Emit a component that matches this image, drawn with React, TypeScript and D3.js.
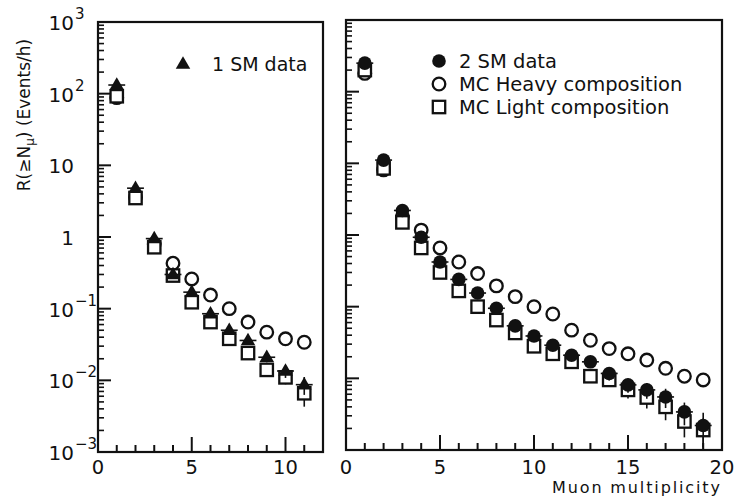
import * as d3 from "d3";

// multiplicity bins
const nLeft = [1, 2, 3, 4, 5, 6, 7, 8, 9, 10, 11];
const nRight = [1, 2, 3, 4, 5, 6, 7, 8, 9, 10, 11, 12, 13, 14, 15, 16, 17, 18, 19];

// left panel: 1 SM
const sm1Data = [132, 4.8, 0.95, 0.3, 0.17, 0.085, 0.05, 0.036, 0.021, 0.0135, 0.0087];
const heavyLeft = [88, 3.6, 0.8, 0.43, 0.26, 0.155, 0.1, 0.065, 0.047, 0.038, 0.034];
const lightLeft = [92, 3.5, 0.72, 0.29, 0.123, 0.065, 0.038, 0.024, 0.014, 0.011, 0.0066];
const sm1Err = [0.03, 0.03, 0.04, 0.05, 0.06, 0.08, 0.1, 0.12, 0.15, 0.2, 0.28];
const lightLeftErr = [0.03, 0.03, 0.04, 0.05, 0.06, 0.08, 0.1, 0.12, 0.15, 0.2, 0.35];

// right panel: 2 SM
const sm2Data = [250, 11.1, 2.2, 0.93, 0.42, 0.24, 0.155, 0.095, 0.054, 0.039, 0.029, 0.021, 0.017, 0.0117, 0.0081, 0.0069, 0.0055, 0.0034, 0.0022];
const heavyRight = [180, 8.1, 1.8, 1.17, 0.66, 0.42, 0.29, 0.195, 0.138, 0.1, 0.079, 0.047, 0.034, 0.026, 0.022, 0.018, 0.0138, 0.0107, 0.0095];
const lightRight = [200, 8.5, 1.5, 0.66, 0.3, 0.166, 0.1, 0.065, 0.043, 0.028, 0.022, 0.017, 0.0107, 0.0095, 0.0069, 0.0054, 0.004, 0.0025, 0.0019];
const sm2Err = [0.03, 0.03, 0.04, 0.05, 0.06, 0.07, 0.08, 0.1, 0.11, 0.12, 0.14, 0.16, 0.18, 0.2, 0.22, 0.25, 0.3, 0.35, 0.5];
const lightRightErr = [0.03, 0.03, 0.04, 0.05, 0.06, 0.07, 0.08, 0.1, 0.11, 0.12, 0.14, 0.16, 0.18, 0.2, 0.24, 0.3, 0.35, 0.4, 0.45];

const yTickLabels = [
  { v: 1e3, base: "10", exp: "3" },
  { v: 1e2, base: "10", exp: "2" },
  { v: 1e1, base: "10", exp: "" },
  { v: 1e0, base: "1", exp: "" },
  { v: 1e-1, base: "10", exp: "-1" },
  { v: 1e-2, base: "10", exp: "-2" },
  { v: 1e-3, base: "10", exp: "-3" },
];

const FONT = "'DejaVu Sans', sans-serif";
const INK = "#111";

type Series = { kind: "tri" | "dot" | "ring" | "box"; values: number[]; err?: number[]; xbar?: boolean };

function Marker({ kind, x, y }: { kind: string; x: number; y: number }) {
  if (kind === "dot") return <circle cx={x} cy={y} r={6.8} fill={INK} />;
  if (kind === "ring") return <circle cx={x} cy={y} r={6.3} fill="#fff" stroke={INK} strokeWidth={2.3} />;
  if (kind === "box") return <rect x={x - 6.2} y={y - 6.2} width={12.4} height={12.4} fill="#fff" stroke={INK} strokeWidth={2.3} />;
  const s = 14.5;
  const h = (s * Math.sqrt(3)) / 2;
  return <path d={`M${x},${y - h * 0.62}L${x + s / 2},${y + h * 0.38}L${x - s / 2},${y + h * 0.38}Z`} fill={INK} />;
}

function Panel({ left, right, top, bottom, xMax, ns, series, yLabels }: {
  left: number; right: number; top: number; bottom: number; xMax: number;
  ns: number[]; series: Series[]; yLabels: boolean;
}) {
  const x = d3.scaleLinear().domain([0, xMax]).range([left, right]);
  const y = d3.scaleLog().domain([1e-3, 1e3]).range([bottom, top]);

  const minor: number[] = [];
  for (let k = -3; k < 3; k++) for (let m = 2; m <= 9; m++) minor.push(m * Math.pow(10, k));
  const majors = d3.range(-3, 4).map((k) => Math.pow(10, k));
  const xTicks = d3.range(1, xMax);
  const xLabels = d3.range(0, xMax + 1, 5);

  return (
    <g>
      {/* y ticks */}
      {majors.map((v) => (
        <line key={"M" + v} x1={left} x2={left + 13} y1={y(v)} y2={y(v)} stroke={INK} strokeWidth={2} />
      ))}
      {minor.map((v) => (
        <line key={"m" + v} x1={left} x2={left + 6} y1={y(v)} y2={y(v)} stroke={INK} strokeWidth={1.6} />
      ))}
      {/* x ticks */}
      {xTicks.map((t) => (
        <line key={"x" + t} x1={x(t)} x2={x(t)} y1={bottom} y2={bottom - (t % 5 === 0 ? 15 : 7)} stroke={INK} strokeWidth={2} />
      ))}
      {xLabels.map((t) => (
        <text key={"xl" + t} x={x(t)} y={474} textAnchor="middle" fontSize={19.5} fontFamily={FONT} fill={INK}>{t}</text>
      ))}
      {yLabels && yTickLabels.map((d) => (
        <g key={"yl" + d.v}>
          <text x={74} y={y(d.v) + 8} textAnchor="end" fontSize={20} fontFamily={FONT} fill={INK}>{d.base}</text>
          {d.exp && (
            <text x={75} y={y(d.v) - 3} fontSize={15} fontFamily={FONT} fill={INK}>{d.exp.replace("-", "\u2212")}</text>
          )}
        </g>
      ))}
      {/* points */}
      {series.map((s, si) => (
        <g key={"s" + si}>
          {s.values.map((v, i) => {
            const px = x(ns[i]);
            const py = y(v);
            const e = s.err ? s.err[i] : 0;
            return (
              <g key={i}>
                {s.xbar && (
                  <line x1={x(ns[i] - 0.45)} x2={x(ns[i] + 0.45)} y1={py} y2={py} stroke={INK} strokeWidth={1.6} />
                )}
                {e > 0 && (
                  <line x1={px} x2={px} y1={y(v * (1 + e))} y2={y(Math.max(v * (1 - e), 1e-3))} stroke={INK} strokeWidth={1.6} />
                )}
                <Marker kind={s.kind} x={px} y={py} />
              </g>
            );
          })}
        </g>
      ))}
      <rect x={left} y={top} width={right - left} height={bottom - top} fill="none" stroke={INK} strokeWidth={2.2} />
    </g>
  );
}

export default function App() {
  return (
    <svg width={734} height={498} style={{ position: "absolute", left: 0, top: 0, background: "#fff" }}>
      <rect width={734} height={498} fill="#fff" />
      <Panel
        left={98} right={323} top={22} bottom={452} xMax={12} ns={nLeft} yLabels
        series={[
          { kind: "ring", values: heavyLeft },
          { kind: "box", values: lightLeft, err: lightLeftErr },
          { kind: "tri", values: sm1Data, err: sm1Err, xbar: true },
        ]}
      />
      <Panel
        left={346} right={722} top={20} bottom={450} xMax={20} ns={nRight} yLabels={false}
        series={[
          { kind: "ring", values: heavyRight },
          { kind: "box", values: lightRight, err: lightRightErr },
          { kind: "dot", values: sm2Data, err: sm2Err, xbar: true },
        ]}
      />
      {/* legends */}
      <Marker kind="tri" x={183} y={64} />
      <text x={212} y={71} fontSize={19} fontFamily={FONT} fill={INK}>1 SM data</text>
      <Marker kind="dot" x={439} y={61} />
      <text x={459} y={68} fontSize={19.5} fontFamily={FONT} fill={INK}>2 SM data</text>
      <Marker kind="ring" x={439} y={84} />
      <text x={459} y={91} fontSize={19.5} fontFamily={FONT} fill={INK}>MC Heavy composition</text>
      <Marker kind="box" x={439} y={107} />
      <text x={459} y={114} fontSize={19.5} fontFamily={FONT} fill={INK}>MC Light composition</text>
      {/* axis titles */}
      <text transform="translate(30,115) rotate(-90)" textAnchor="middle" fontSize={17} fontFamily={FONT} fill={INK}>
        R(≥N<tspan fontSize={12} dy={4}>μ</tspan><tspan dy={-4}>) (Events/h)</tspan>
      </text>
      <text x={720} y={493} textAnchor="end" fontSize={16} fontFamily={FONT} fill={INK} textLength={168}>Muon multiplicity</text>
    </svg>
  );
}
